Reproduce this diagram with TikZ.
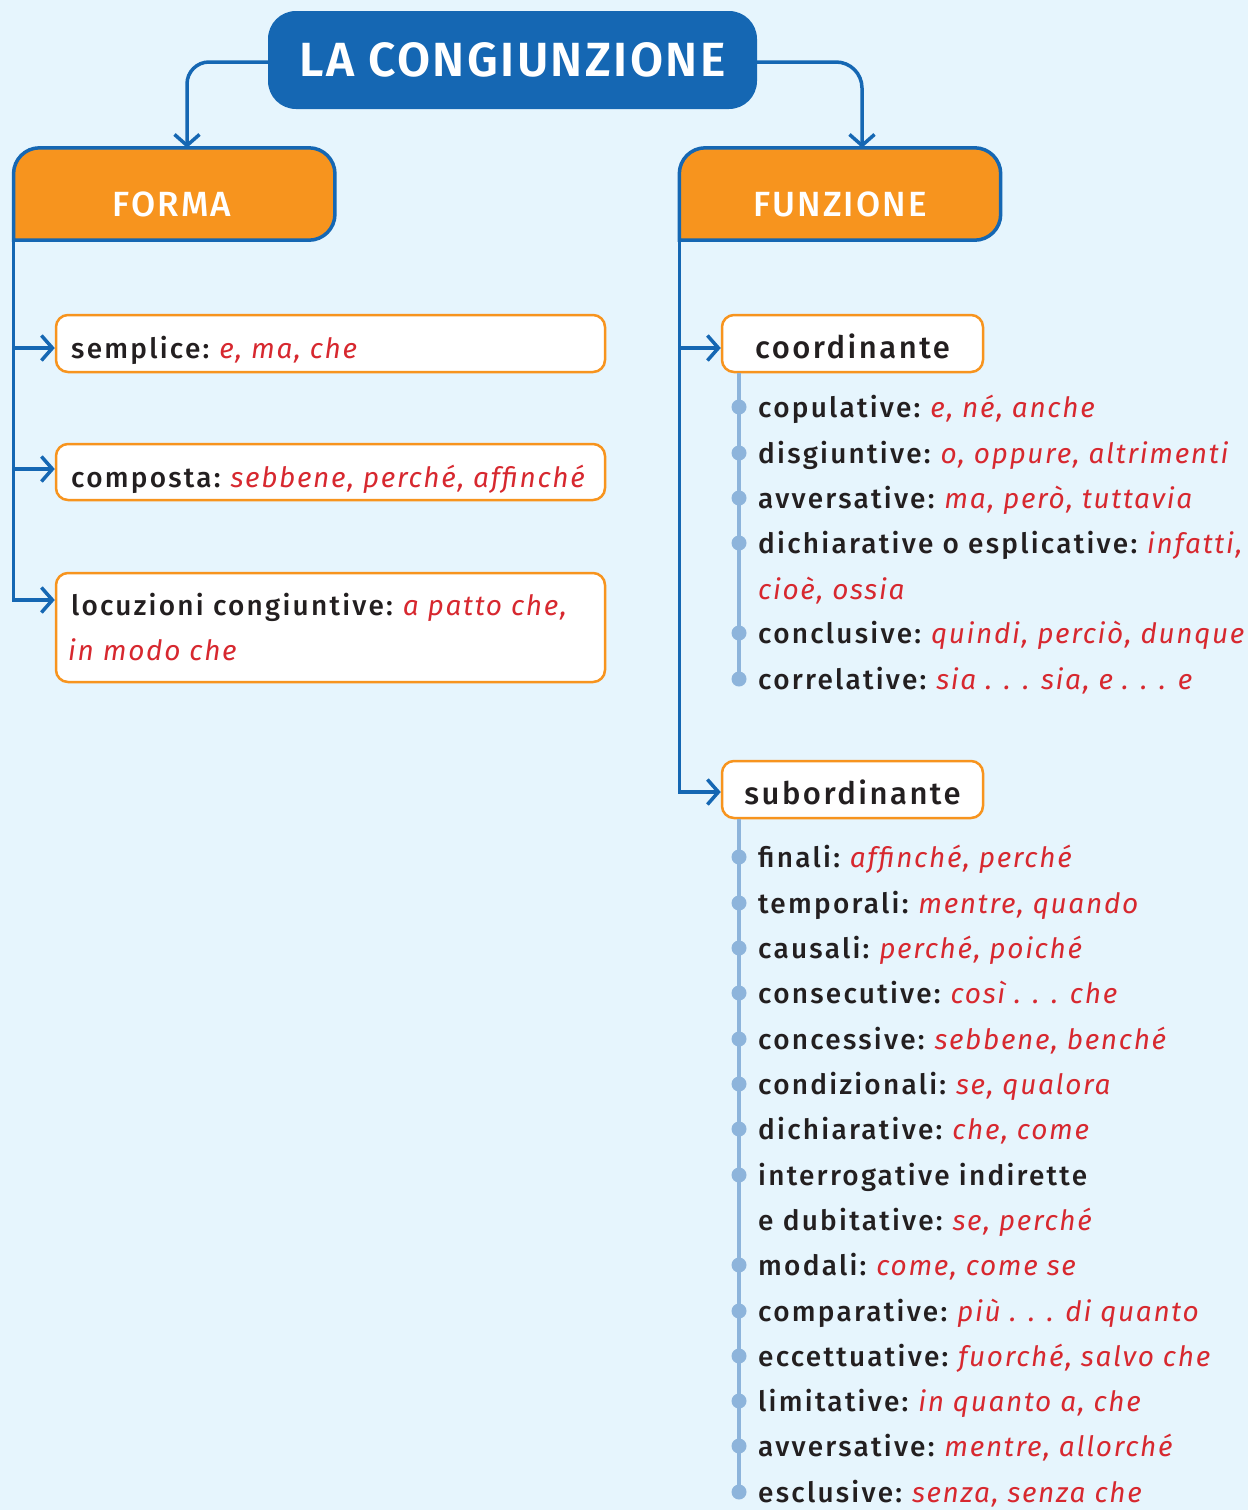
\documentclass[tikz,border=0pt]{standalone}
\usepackage{fontspec}
\usetikzlibrary{arrows.meta,positioning}
\setmainfont{Fira Sans}
\IfFontExistsTF{Fira Sans Medium}
  {\newfontfamily\labfont{Fira Sans Medium}[LetterSpace=8]}
  {\newfontfamily\labfont{Fira Sans}[LetterSpace=8]}
\IfFontExistsTF{Fira Sans SemiBold}
  {\newfontfamily\headfont{Fira Sans SemiBold}[LetterSpace=5]}
  {\newfontfamily\headfontbase{Fira Sans}[LetterSpace=5]\newcommand\headfont{\headfontbase\bfseries}}
\IfFontExistsTF{Fira Sans Medium}
  {\newfontfamily\subheadfont{Fira Sans Medium}[LetterSpace=6]}
  {\newfontfamily\subheadfont{Fira Sans}[LetterSpace=6]}
\newfontfamily\exfont{Fira Sans}[LetterSpace=6]

\definecolor{bgblue}{HTML}{E6F5FD}
\definecolor{titleblue}{HTML}{1567B3}
\definecolor{headorange}{HTML}{F7941E}
\definecolor{listblue}{HTML}{8DB4DB}
\definecolor{exred}{HTML}{D7282F}
\definecolor{ink}{HTML}{231F20}

\newcommand{\lab}[1]{{\labfont\color{ink}#1}}
\newcommand{\ex}[1]{{\exfont\itshape\color{exred}#1}}

\tikzset{
    titlebox/.style={
    rectangle,rounded corners=28pt,fill=titleblue,text=white,
    minimum width=489pt,minimum height=98pt,
    font=\headfont\fontsize{48}{58}\selectfont
    },
    headfield/.style={
    rectangle,inner sep=0pt,minimum width=321pt,minimum height=92pt
    },
    headbox/.style={
    draw=titleblue,line width=3.5pt,fill=headorange
    },
    headtext/.style={
    anchor=base,inner sep=0pt,text=white,font=\subheadfont\fontsize{35}{40}\selectfont
    },
    itembox/.style={
    rectangle,rounded corners=12pt,draw=headorange,line width=2.5pt,fill=white,
    minimum width=549pt,inner sep=0pt
    },
    typebox/.style={
    rectangle,rounded corners=12pt,draw=headorange,line width=2.5pt,fill=white,
    minimum width=261pt,minimum height=57pt,text height=29pt,text depth=0pt,
    font=\labfont\fontsize{31}{36}\selectfont,text=ink
    },
    entry/.style={
    anchor=base west,inner sep=0pt,font=\fontsize{28}{45}\selectfont
    },
    link/.style={
    draw=titleblue,line width=3.5pt,-{Straight Barb[length=11pt,width=25pt]}
    },
    spine/.style={
    draw=listblue,line width=4.5pt
    },
    dot/.style={
    circle,fill=listblue,inner sep=0pt,minimum size=15pt
    },
}

\begin{document}
\begin{tikzpicture}[x=1pt,y=-1pt]
  \fill[bgblue] (0,0) rectangle (1248,1510);
  \useasboundingbox (0,0) rectangle (1248,1510);

  % title
  \node[titlebox] (title) at (512.5,60) {LA CONGIUNZIONE};

  % heads
  \node[headfield] (forma) at (174.25,194) {};
  \draw[headbox] (forma.south west) [rounded corners=26pt] -- (forma.north west)
    -- (forma.north east) -- (forma.south east) [sharp corners] -- cycle;
  \node[headtext] (formatext) at (172,216) {FORMA};

  \node[headfield] (funzione) at (840,194) {};
  \draw[headbox] (funzione.south west) [rounded corners=26pt] -- (funzione.north west)
    -- (funzione.north east) -- (funzione.south east) [sharp corners] -- cycle;
  \node[headtext] (funzionetext) at (840,216) {FUNZIONE};

  \draw[link,rounded corners=22pt] ([yshift=-2pt]title.west) -| ([xshift=12.75pt]forma.north);
  \draw[link,rounded corners=26pt] ([yshift=-2pt]title.east) -| ([xshift=22pt]funzione.north);

  % forma
  \node[itembox,minimum height=57pt] (semplice) at (330.5,343.5) {};
  \node[itembox,minimum height=56pt] (composta) at (330.5,472) {};
  \node[itembox,minimum height=109pt] (locuzioni) at (330.5,627.5) {};
  \node[entry] (sempliceText) at (71,358) {\lab{semplice:} \ex{e, ma, che}};
  \node[entry] (compostaText) at (71,487) {\lab{composta:} \ex{sebbene, perché, affinché}};
  \node[entry] (locuzioniText) at (71,615) {\lab{locuzioni congiuntive:} \ex{a patto che,}};
  \node[entry] (locuzioniText2) at (68,660) {\ex{in modo che}};

  \draw[link] (forma.south west) |- ([yshift=27.5pt]locuzioni.west);
  \draw[link] (forma.south west |- semplice.west) ++(0,4.5) -- ([yshift=-4.5pt]semplice.west);
  \draw[link] (forma.south west |- composta.west) ++(0,-3) -- ([yshift=3pt]composta.west);

  % funzione
  \node[typebox] (coord) at (852.5,343.5) {coordinante};
  \node[typebox] (subord) at (852.5,789.5) {subordinante};

  \draw[link] (funzione.south west) |- ([yshift=-2.5pt]subord.west);
  \draw[link] (funzione.south west |- coord.west) ++(0,4.5) -- ([yshift=-4.5pt]coord.west);

  \coordinate (coordEnd) at (739,679);
  \coordinate (subordEnd) at (739,1492);
  \draw[spine] (coordEnd |- coord.south) -- (coordEnd);
  \draw[spine] (subordEnd |- subord.south) -- (subordEnd);

  \foreach \y/\l/\e [count=\i] in {
      407/copulative:/{e, né, anche},
      453/disgiuntive:/{o, oppure, altrimenti},
      498/avversative:/{ma, però, tuttavia},
      543/dichiarative o esplicative:/{infatti,},
      633/conclusive:/{quindi, perciò, dunque},
      679/correlative:/{sia . . . sia, e . . . e}} {
    \node[dot] (cdot\i) at (739,\y) {};
    \node[entry] (cterm\i) at (758,\y+10) {\lab{\l} \ex{\e}};
  }
  \node[entry] (ctermextra) at (758,599) {\ex{cioè, ossia}};

  \foreach \y/\l/\e [count=\i] in {
      857/finali:/{affinché, perché},
      903/temporali:/{mentre, quando},
      948/causali:/{perché, poiché},
      993/consecutive:/{così . . . che},
      1039/concessive:/{sebbene, benché},
      1084/condizionali:/{se, qualora},
      1129/dichiarative:/{che, come},
      1265/modali:/{come, come se},
      1311/comparative:/{più . . . di quanto},
      1356/eccettuative:/{fuorché, salvo che},
      1401/limitative:/{in quanto a, che},
      1446/avversative:/{mentre, allorché},
      1492/esclusive:/{senza, senza che}} {
    \node[dot] (sdot\i) at (739,\y) {};
    \node[entry] (sterm\i) at (758,\y+10) {\lab{\l} \ex{\e}};
  }
  \node[dot] (sdotextra) at (739,1175) {};
  \node[entry] (stermextra) at (758,1185) {\lab{interrogative indirette}};
  \node[entry] (stermextra2) at (758,1230) {\lab{e dubitative:} \ex{se, perché}};

\end{tikzpicture}
\end{document}
